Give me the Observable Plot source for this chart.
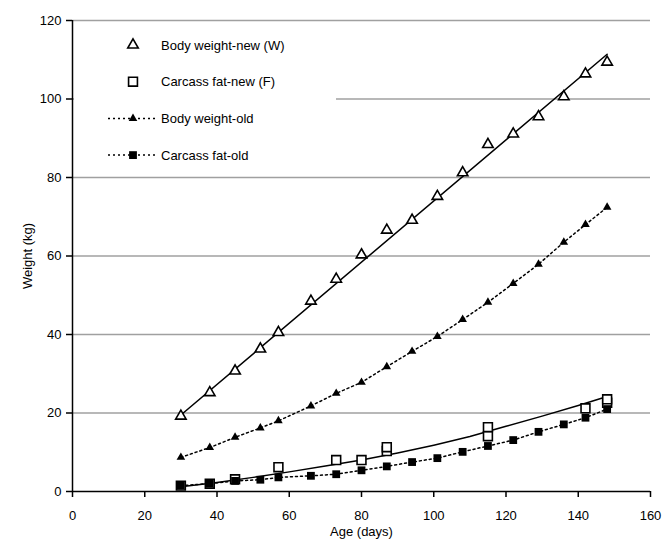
<!DOCTYPE html>
<html>
<head>
<meta charset="utf-8">
<script src="https://cdn.jsdelivr.net/npm/d3@7"></script>
<script src="https://cdn.jsdelivr.net/npm/@observablehq/plot@0.6"></script>
<style>
  html, body { margin: 0; padding: 0; background: #fff; }
  #wrap { position: relative; width: 664px; height: 544px; font-family: "Liberation Sans", Arial, sans-serif; }
  #legend { position: absolute; left: 74px; top: 26px; width: 262px; height: 146px; background: #fff; }
</style>
</head>
<body>
<div id="wrap"><div id="legend"></div></div>
<script>
// ---- data ----
const ages = [30, 38, 45, 52, 57, 66, 73, 80, 87, 94, 101, 108, 115, 122, 129, 136, 142, 148];
const bodyWeightNew = [19.2, 25.2, 30.7, 36.3, 40.5, 48.5, 54.1, 60.3, 66.6, 69.1, 75.2, 81.2, 88.4, 91.1, 95.5, 100.6, 106.4, 109.4];
const bodyWeightOld = [8.7, 11.2, 13.8, 16.2, 18.0, 21.8, 25.0, 27.8, 31.8, 35.7, 39.5, 43.8, 48.2, 53.0, 57.9, 63.5, 68.0, 72.4];
const carcassFatOld = [1.5, 2.0, 2.7, 3.0, 3.6, 4.0, 4.4, 5.4, 6.4, 7.5, 8.5, 10.1, 11.6, 13.1, 15.2, 17.1, 18.8, 21.0];
const carcassFatNewAges = [30, 38, 45, 57, 73, 80, 87, 87, 115, 115, 142, 148, 148];
const carcassFatNew = [1.5, 2.0, 3.1, 6.2, 8.0, 8.0, 10.3, 11.3, 14.1, 16.4, 21.2, 22.6, 23.5];
const fitWAges = [30, 148];
const fitW = [19.5, 111.4];
const fitFAges = [30, 40, 50, 60, 70, 80, 90, 100, 110, 120, 130, 140, 148];
const fitF = [1.2, 2.3, 3.6, 5.0, 6.5, 8.0, 9.8, 11.8, 14.0, 16.6, 19.2, 21.9, 24.2];
const xTicks = [0, 20, 40, 60, 80, 100, 120, 140, 160];
const yTicks = [0, 20, 40, 60, 80, 100, 120];
const legendLabels = ["Body weight-new (W)", "Carcass fat-new (F)", "Body weight-old", "Carcass fat-old"];

// ---- tables ----
const zip = (xs, ys) => xs.map((x, i) => ({x, y: ys[i]}));
const wNew = zip(ages, bodyWeightNew);
const wOld = zip(ages, bodyWeightOld);
const fOld = zip(ages, carcassFatOld);
const fNew = zip(carcassFatNewAges, carcassFatNew);
const wFit = zip(fitWAges, fitW);
const fFit = zip(fitFAges, fitF);

const FONT = "Liberation Sans, Arial, sans-serif";
const dash = "2,3";

const chart = Plot.plot({
  width: 664,
  height: 544,
  marginLeft: 72,
  marginRight: 14,
  marginTop: 20,
  marginBottom: 53,
  style: {fontFamily: FONT, fontSize: "13px", color: "#000", background: "#fff"},
  x: {domain: [0, 160]},
  y: {domain: [0, 120]},
  marks: [
    Plot.ruleY(yTicks.filter(d => d > 0), {stroke: "#a0a0a0", strokeWidth: 1.5}),
    Plot.axisX({ticks: xTicks, tickSize: 6, tickPadding: 13, strokeWidth: 1.5, label: "Age (days)", labelArrow: "none", labelAnchor: "center", labelOffset: 44, fontSize: 13}),
    Plot.axisY({ticks: yTicks, tickSize: 6, tickPadding: 5, strokeWidth: 1.5, label: "Weight (kg)", labelArrow: "none", labelAnchor: "center", labelOffset: 50, fontSize: 13}),
    Plot.ruleX([0], {strokeWidth: 1.5}),
    Plot.ruleY([0], {strokeWidth: 1.5}),
    // fitted lines
    Plot.line(wFit, {x: "x", y: "y", stroke: "#000", strokeWidth: 1.5}),
    Plot.line(fFit, {x: "x", y: "y", stroke: "#000", strokeWidth: 1.5}),
    // old series, dotted connections
    Plot.line(wOld, {x: "x", y: "y", stroke: "#000", strokeWidth: 1.5, strokeDasharray: dash}),
    Plot.line(fOld, {x: "x", y: "y", stroke: "#000", strokeWidth: 1.5, strokeDasharray: dash}),
    // markers
    Plot.dot(wNew, {x: "x", y: "y", symbol: "triangle", r: 3.9, fill: "#fff", stroke: "#000", strokeWidth: 1.6}),
    Plot.dot(fNew, {x: "x", y: "y", symbol: "square", r: 5.0, fill: "#fff", stroke: "#000", strokeWidth: 1.6}),
    Plot.dot(wOld, {x: "x", y: "y", symbol: "triangle", r: 3.2, fill: "#000", stroke: "none"}),
    Plot.dot(fOld, {x: "x", y: "y", symbol: "square", r: 4.4, fill: "#000", stroke: "none"})
  ]
});
const wrap = document.getElementById("wrap");
wrap.insertBefore(chart, wrap.firstChild);

// ---- legend ----
const lg = d3.select("#legend").append("svg").attr("width", 262).attr("height", 146)
  .style("font-family", FONT).style("font-size", "13px");
const rows = [
  {sym: d3.symbolTriangle, r: 3.9, fill: "#fff", stroke: "#000", line: false},
  {sym: d3.symbolSquare, r: 5.0, fill: "#fff", stroke: "#000", line: false},
  {sym: d3.symbolTriangle, r: 3.2, fill: "#000", stroke: "none", line: true},
  {sym: d3.symbolSquare, r: 4.4, fill: "#000", stroke: "none", line: true}
];
rows.forEach((row, i) => {
  const cy = 19 + i * 36.7;
  const g = lg.append("g").attr("transform", `translate(0,${cy})`);
  if (row.line) {
    g.append("line").attr("x1", 34).attr("x2", 82).attr("y1", 0).attr("y2", 0)
      .attr("stroke", "#000").attr("stroke-width", 1.5).attr("stroke-dasharray", dash);
  }
  g.append("path").attr("transform", "translate(59,0)")
    .attr("d", d3.symbol(row.sym, row.r * row.r * Math.PI)())
    .attr("fill", row.fill).attr("stroke", row.stroke).attr("stroke-width", 1.6);
  g.append("text").attr("x", 87).attr("y", 0).attr("dy", "0.35em").text(legendLabels[i]);
});
</script>
</body>
</html>
